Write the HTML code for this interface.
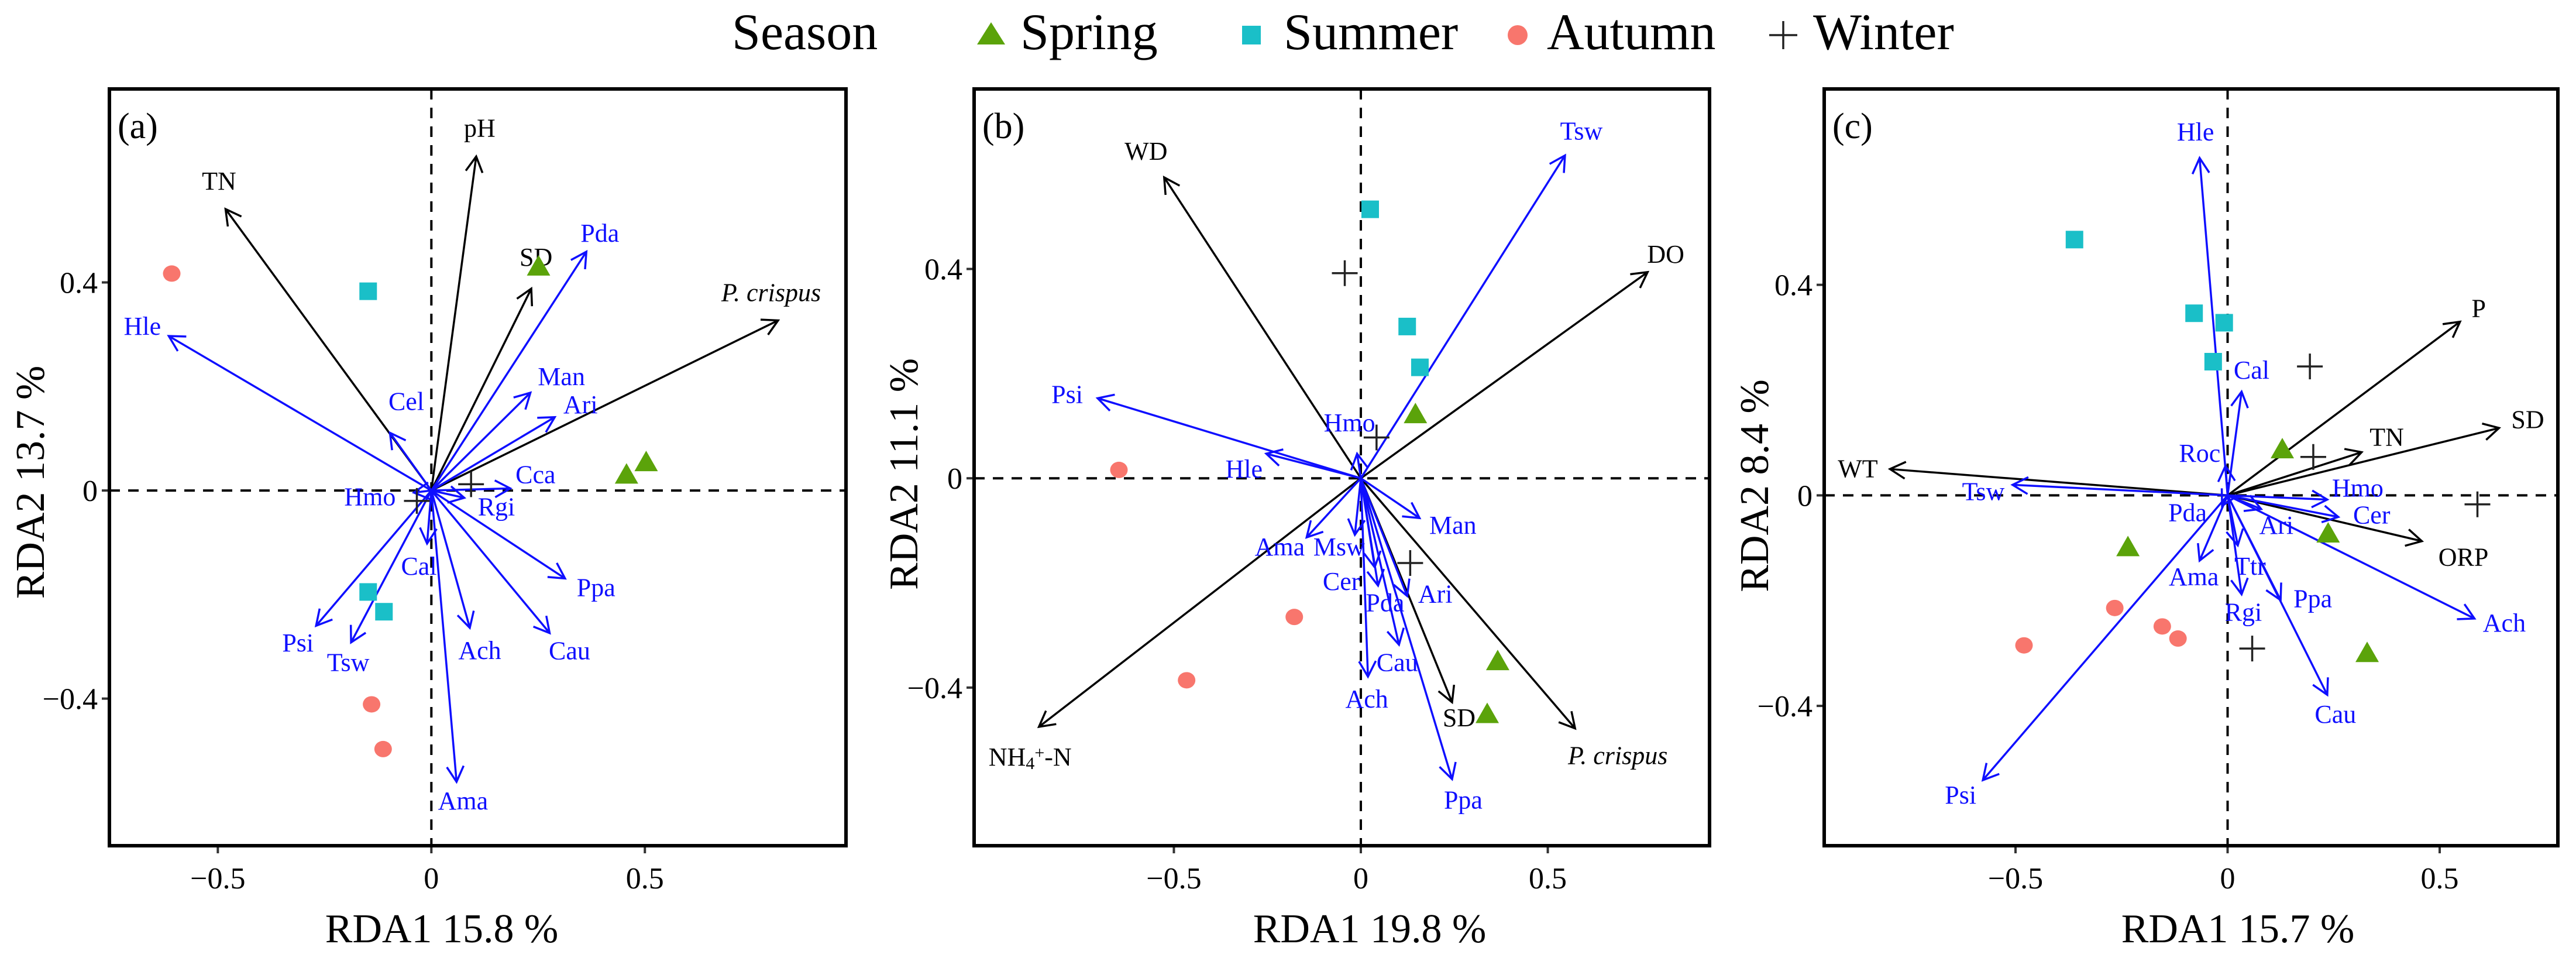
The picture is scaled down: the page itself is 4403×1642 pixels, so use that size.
<!DOCTYPE html>
<html><head><meta charset="utf-8"><style>
html,body{margin:0;padding:0;background:#fff;}
svg, svg text{font-family:"Liberation Serif","Times New Roman","DejaVu Serif",serif;}
</style></head><body>
<svg id="chart" width="4403" height="1637" viewBox="0 0 4403 1637" xmlns="http://www.w3.org/2000/svg" font-family="'Liberation Serif', 'Times New Roman', 'DejaVu Serif', serif">
<g>
<text x="1251" y="84" font-size="88">Season</text>
<polygon points="1694,38 1670,76 1718,76" fill="#5ba30a"/>
<text x="1744" y="84" font-size="88">Spring</text>
<rect x="2123" y="44" width="32" height="32" fill="#1abfc8"/>
<text x="2194" y="84" font-size="88">Summer</text>
<circle cx="2594" cy="60" r="17" fill="#f8766d"/>
<text x="2644" y="84" font-size="88">Autumn</text>
<path d="M3024,60 H3072 M3048,36 V84" stroke="#222" stroke-width="3.5"/>
<text x="3099" y="84" font-size="88">Winter</text>
</g>
</svg>
<script>
// ---------- Panel (a) data ----------
const aEnvNames = ["TN","pH","SD","P. crispus"];
const aEnvX = [-0.482, 0.105, 0.234, 0.812];
const aEnvY = [0.541, 0.642, 0.388, 0.327];
const aSpNames = ["Hle","Pda","Man","Ari","Cel","Cca","Rgi","Hmo","Cal","Ppa","Cau","Ach","Ama","Psi","Tsw"];
const aSpX = [-0.615,0.363,0.232,0.289,-0.097,0.185,0.077,-0.041,-0.010,0.313,0.277,0.090,0.059,-0.270,-0.188];
const aSpY = [0.297,0.459,0.188,0.141,0.111,0.004,-0.014,-0.004,-0.102,-0.169,-0.274,-0.264,-0.560,-0.260,-0.292];
const aSpringX = [0.251,0.457,0.503], aSpringY = [0.430,0.030,0.054];
const aSummerX = [-0.148,-0.148,-0.111], aSummerY = [0.383,-0.195,-0.233];
const aAutumnX = [-0.608,-0.140,-0.113], aAutumnY = [0.417,-0.411,-0.497];
const aWinterX = [0.093,-0.034], aWinterY = [0.012,-0.020];
const aXTicks = [-0.5,0,0.5], aYTicks = [-0.4,0,0.4];
const aXTickLabels = ["\u22120.5","0","0.5"], aYTickLabels = ["\u22120.4","0","0.4"];

// ---------- Panel (b) data ----------
const bEnvNames = ["WD","DO","NH4+-N","SD","P. crispus"];
const bEnvX = [-0.526,0.767,-0.861,0.244,0.573];
const bEnvY = [0.575,0.394,-0.475,-0.428,-0.478];
const bSpNames = ["Tsw","Psi","Hle","Hmo","Man","Ama","Msw","Cer","Pda","Ari","Cau","Ach","Ppa"];
const bSpX = [0.546,-0.704,-0.253,-0.010,0.157,-0.145,-0.016,0.037,0.046,0.124,0.102,0.019,0.244];
const bSpY = [0.617,0.153,0.047,0.047,-0.076,-0.113,-0.108,-0.170,-0.205,-0.225,-0.318,-0.379,-0.575];
const bSpringX = [0.146,0.366,0.338], bSpringY = [0.122,-0.350,-0.451];
const bSummerX = [0.025,0.124,0.158], bSummerY = [0.514,0.290,0.212];
const bAutumnX = [-0.647,-0.178,-0.466], bAutumnY = [0.016,-0.265,-0.386];
const bWinterX = [-0.043,0.042,0.132], bWinterY = [0.392,0.078,-0.162];
const bXTicks = [-0.5,0,0.5], bYTicks = [-0.4,0,0.4];
const bXTickLabels = ["\u22120.5","0","0.5"], bYTickLabels = ["\u22120.4","0","0.4"];

// ---------- Panel (c) data ----------
const cEnvNames = ["WT","P","SD","TN","ORP"];
const cEnvX = [-0.796,0.548,0.640,0.316,0.458];
const cEnvY = [0.050,0.330,0.128,0.082,-0.087];
const cSpNames = ["Hle","Cal","Roc","Tsw","Hmo","Cer","Ari","Pda","Ama","Ttr","Rgi","Ppa","Cau","Ach","Psi"];
const cSpX = [-0.066,0.033,-0.005,-0.507,0.235,0.261,0.079,-0.013,-0.066,0.024,0.033,0.125,0.235,0.582,-0.577];
const cSpY = [0.641,0.197,0.056,0.020,-0.008,-0.041,-0.026,-0.020,-0.124,-0.095,-0.188,-0.199,-0.379,-0.234,-0.541];
const cSpringX = [0.129,-0.235,0.237,0.329], cSpringY = [0.087,-0.099,-0.073,-0.300];
const cSummerX = [-0.361,-0.079,-0.008,-0.034], cSummerY = [0.486,0.346,0.328,0.254];
const cAutumnX = [-0.266,-0.480,-0.154,-0.117], cAutumnY = [-0.214,-0.285,-0.249,-0.272];
const cWinterX = [0.194,0.202,0.589,0.058], cWinterY = [0.245,0.073,-0.017,-0.291];
const cXTicks = [-0.5,0,0.5], cYTicks = [-0.4,0,0.4];
const cXTickLabels = ["\u22120.5","0","0.5"], cYTickLabels = ["\u22120.4","0","0.4"];

const NS = "http://www.w3.org/2000/svg";
const FONT = "'Liberation Serif', 'Times New Roman', 'DejaVu Serif', serif";
const svg = document.getElementById("chart");
function mk(tag, attrs, parent){ const e=document.createElementNS(NS,tag); for(const k in attrs) e.setAttribute(k,attrs[k]); if(tag==="text") e.setAttribute("font-family",FONT); (parent||svg).appendChild(e); return e; }

const offs = {
 a:{env:{"TN":[-11,-47],"pH":[6,-48],"SD":[8,-53],"P. crispus":[-12,-47]},
    sp:{"Hle":[-45,-16],"Pda":[23,-31],"Man":[53,-27],"Ari":[44,-21],"Cel":[28,-53],"Cca":[43,-23],"Rgi":[55,16],"Hmo":[-75,8],"Cal":[-14,39],"Ppa":[53,16],"Cau":[34,31],"Ach":[17,39],"Ama":[11,33],"Psi":[-31,30],"Tsw":[-5,35]}},
 b:{env:{"WD":[-31,-44],"DO":[31,-30],"NH4+-N":[-15,52],"SD":[12,27],"P. crispus":[73,47]},
    sp:{"Tsw":[28,-41],"Psi":[-52,-6],"Hle":[-38,27],"Hmo":[-13,-52],"Man":[57,13],"Ama":[-46,17],"Msw":[-27,21],"Cer":[-57,25],"Pda":[12,30],"Ari":[48,-3],"Cau":[-3,31],"Ach":[-2,39],"Ppa":[19,36]}},
 c:{env:{"WT":[-55,0],"P":[32,-22],"SD":[49,-14],"TN":[43,-25],"ORP":[71,28]},
    sp:{"Hle":[-7,-44],"Cal":[17,-36],"Roc":[-44,-21],"Tsw":[-50,12],"Hmo":[52,-19],"Cer":[57,-3],"Ari":[26,28],"Pda":[-59,12],"Ama":[-10,28],"Ttr":[21,36],"Rgi":[3,31],"Ppa":[55,-2],"Cau":[14,34],"Ach":[51,8],"Psi":[-38,26]}}
};

function panel(cfg){
 const g = mk("g",{});
 
 
 const sx = v => cfg.x0 + v*cfg.kx, sy = v => cfg.y0 - v*cfg.ky;
 const zl1 = mk("line",{x1:cfg.L,x2:cfg.R,y1:sy(0),y2:sy(0),stroke:"#000","stroke-width":4,"stroke-dasharray":"18,14"},g);
 
 
 const zl2 = mk("line",{y1:cfg.T,y2:cfg.B,x1:sx(0),x2:sx(0),stroke:"#000","stroke-width":4,"stroke-dasharray":"18,14"},g);
 
 
 function arrow(x,y,color,name,lbl,off,italic){
  const ag = mk("g",{},g);
  
  
  const X0=sx(0),Y0=sy(0),X=sx(x),Y=sy(y);
  const ang=Math.atan2(Y-Y0,X-X0), h=30, sp=0.5;
  const d=`M${X0},${Y0} L${X},${Y} M${X-h*Math.cos(ang-sp)},${Y-h*Math.sin(ang-sp)} L${X},${Y} L${X-h*Math.cos(ang+sp)},${Y-h*Math.sin(ang+sp)}`;
  mk("path",{d:d,stroke:color,"stroke-width":3.5,fill:"none","stroke-linejoin":"miter"},ag);
  const t = mk("text",{x:X+off[0],y:Y+off[1]+14,"text-anchor":"middle","font-size":44,fill:color},ag);
  
  
  if(lbl==="NH4+-N"){ t.innerHTML='NH<tspan font-size="30" dy="6">4</tspan><tspan font-size="30" dy="-18">+</tspan><tspan dy="12">-N</tspan>'; }
  else if(italic){ t.setAttribute("font-style","italic"); t.textContent=lbl; }
  else t.textContent=lbl;
 }
 cfg.envX.forEach((v,i)=>arrow(v,cfg.envY[i],"#000","env-arrow-"+cfg.envN[i].replace(/[^A-Za-z0-9]/g,"").toLowerCase(),cfg.envN[i],offs[cfg.id].env[cfg.envN[i]],cfg.envN[i]==="P. crispus"));
 cfg.spX.forEach((v,i)=>arrow(v,cfg.spY[i],"#0f0fff","species-arrow-"+cfg.spN[i].toLowerCase(),cfg.spN[i],offs[cfg.id].sp[cfg.spN[i]],false));
 cfg.spr[0].forEach((v,i)=>{const X=sx(v),Y=sy(cfg.spr[1][i]);
  const p=mk("polygon",{points:`${X},${Y-20} ${X-20},${Y+15} ${X+20},${Y+15}`,fill:"#5ba30a"},g);
  
  });
 cfg.sum[0].forEach((v,i)=>{const X=sx(v),Y=sy(cfg.sum[1][i]);
  const p=mk("rect",{x:X-15,y:Y-15,width:30,height:30,fill:"#1abfc8"},g);
  
  });
 cfg.aut[0].forEach((v,i)=>{const X=sx(v),Y=sy(cfg.aut[1][i]);
  const p=mk("ellipse",{cx:X,cy:Y,rx:15,ry:14,fill:"#f8766d"},g);
  
  });
 cfg.win[0].forEach((v,i)=>{const X=sx(v),Y=sy(cfg.win[1][i]);
  const p=mk("path",{d:`M${X-22},${Y} H${X+22} M${X},${Y-22} V${Y+22}`,stroke:"#222","stroke-width":3.5},g);
  
  });
 const fr = mk("rect",{x:cfg.L,y:cfg.T,width:cfg.R-cfg.L,height:cfg.B-cfg.T,fill:"none",stroke:"#000","stroke-width":6},g);
 
 
 cfg.xt.forEach((v,i)=>{
  const tk=mk("line",{x1:sx(v),x2:sx(v),y1:cfg.B+3,y2:cfg.B+13,stroke:"#333","stroke-width":4},g);
  
  
  const t=mk("text",{x:sx(v),y:cfg.B+73,"text-anchor":"middle","font-size":52},g);
  
  
  t.textContent=cfg.xtl[i];});
 cfg.yt.forEach((v,i)=>{
  const tk=mk("line",{y1:sy(v),y2:sy(v),x1:cfg.L-3,x2:cfg.L-13,stroke:"#333","stroke-width":4},g);
  
  
  const t=mk("text",{x:cfg.L-20,y:sy(v)+18,"text-anchor":"end","font-size":52},g);
  
  
  t.textContent=cfg.ytl[i];});
 const xt=mk("text",{x:cfg.xlc,y:1610,"text-anchor":"middle","font-size":70},g);
 
 
 xt.setAttribute("xml:space","preserve");
 xt.textContent=cfg.xl;
 const yt=mk("text",{x:0,y:0,"text-anchor":"middle","font-size":70,transform:`translate(${cfg.ylx},${cfg.ylc}) rotate(-90)`},g);
 
 
 yt.setAttribute("xml:space","preserve");
 yt.textContent=cfg.yl;
 const pl=mk("text",{x:cfg.L+14,y:236,"font-size":62},g);
 
 
 pl.textContent="("+cfg.id+")";
}

panel({id:"a",L:187,R:1446,T:152,B:1445,x0:737.3,kx:729.9,y0:838.1,ky:888.9,
 envN:aEnvNames,envX:aEnvX,envY:aEnvY,spN:aSpNames,spX:aSpX,spY:aSpY,
 spr:[aSpringX,aSpringY],sum:[aSummerX,aSummerY],aut:[aAutumnX,aAutumnY],win:[aWinterX,aWinterY],
 xt:aXTicks,yt:aYTicks,xtl:aXTickLabels,ytl:aYTickLabels,xl:"RDA1  15.8 %",yl:"RDA2  13.7 %",xlc:755,ylx:75,ylc:824});
panel({id:"b",L:1665,R:2922,T:152,B:1445,x0:2326,kx:639.1,y0:817.2,ky:894.1,
 envN:bEnvNames,envX:bEnvX,envY:bEnvY,spN:bSpNames,spX:bSpX,spY:bSpY,
 spr:[bSpringX,bSpringY],sum:[bSummerX,bSummerY],aut:[bAutumnX,bAutumnY],win:[bWinterX,bWinterY],
 xt:bXTicks,yt:bYTicks,xtl:bXTickLabels,ytl:bYTickLabels,xl:"RDA1  19.8 %",yl:"RDA2  11.1 %",xlc:2341,ylx:1568,ylc:810});
panel({id:"c",L:3118,R:4372,T:152,B:1445,x0:3807.5,kx:725,y0:846.4,ky:899.3,
 envN:cEnvNames,envX:cEnvX,envY:cEnvY,spN:cSpNames,spX:cSpX,spY:cSpY,
 spr:[cSpringX,cSpringY],sum:[cSummerX,cSummerY],aut:[cAutumnX,cAutumnY],win:[cWinterX,cWinterY],
 xt:cXTicks,yt:cYTicks,xtl:cXTickLabels,ytl:cYTickLabels,xl:"RDA1  15.7 %",yl:"RDA2  8.4 %",xlc:3825,ylx:3022,ylc:830});
</script>
</body></html>
